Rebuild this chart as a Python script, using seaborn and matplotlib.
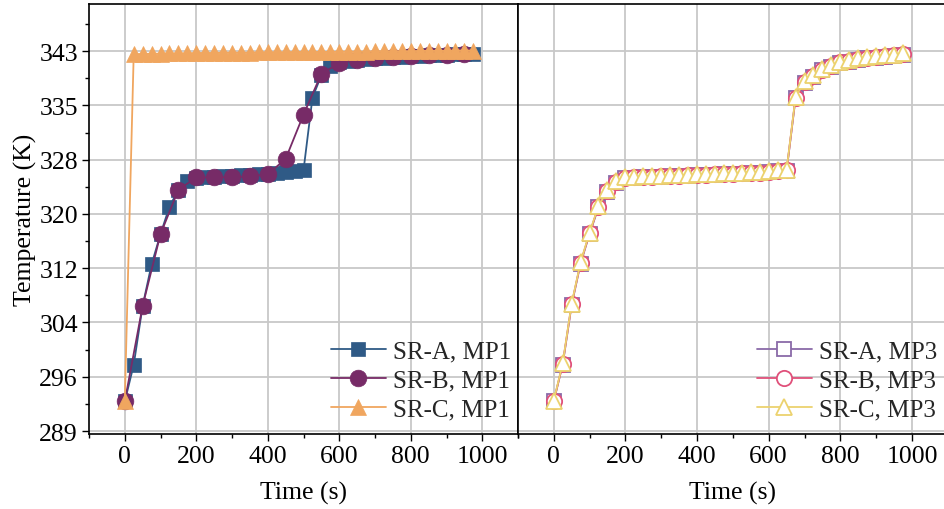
import numpy as np
import pandas as pd
import matplotlib
matplotlib.use("Agg")
import matplotlib.pyplot as plt
import seaborn as sns
from matplotlib.ticker import MultipleLocator, FixedLocator

# ---------------- data ----------------
time_25 = list(range(0, 1000, 25))   # 0 .. 975 s
time_50 = list(range(0, 1000, 50))   # 0 .. 950 s

sra_mp1 = [293.2, 298.4, 306.8, 312.7, 317.0, 320.9, 323.3, 324.6,
           325.0, 325.1, 325.15, 325.2, 325.3, 325.35, 325.4, 325.5, 325.6, 325.7, 325.8, 325.9, 326.1,
           336.4, 339.6, 340.9, 341.4, 341.6, 341.8, 341.9, 342.0, 342.1, 342.15, 342.2, 342.3, 342.35,
           342.4, 342.45, 342.5, 342.55, 342.6, 342.65]
srb_mp1 = [293.2, 306.8, 317.0, 323.3, 325.05, 325.05, 325.1, 325.2, 325.5, 327.7,
           334.0, 339.8, 341.3, 341.8, 342.0, 342.2, 342.3, 342.4, 342.5, 342.6]
src_mp1 = [293.2, 342.6, 342.6, 342.65, 342.65, 342.7, 342.7, 342.7, 342.75, 342.75,
           342.75, 342.8, 342.8, 342.8, 342.8, 342.85, 342.85, 342.85, 342.85, 342.9,
           342.9, 342.9, 342.9, 342.9, 342.95, 342.95, 342.95, 342.95, 343.0, 343.0,
           343.0, 343.0, 343.0, 343.05, 343.05, 343.05, 343.05, 343.1, 343.1, 343.1]

sra_mp3 = [293.2, 298.4, 306.9, 312.8, 317.0, 320.8, 323.0, 324.3, 324.95,
           325.0, 325.05, 325.1, 325.15, 325.2, 325.25, 325.3, 325.35, 325.4, 325.45, 325.5,
           325.55, 325.6, 325.65, 325.7, 325.8, 325.9, 326.0,
           336.3, 338.5, 339.4, 340.3, 340.8, 341.3, 341.5, 341.8, 342.0, 342.1, 342.2, 342.3, 342.5]
srb_mp3 = [293.2, 298.5, 307.0, 312.9, 317.1, 320.9, 323.1, 324.4, 325.0,
           325.05, 325.1, 325.15, 325.2, 325.25, 325.3, 325.35, 325.4, 325.45, 325.5, 325.55,
           325.6, 325.65, 325.7, 325.75, 325.85, 325.95, 326.05,
           336.4, 338.6, 339.5, 340.4, 340.9, 341.4, 341.6, 341.9, 342.1, 342.2, 342.3, 342.4, 342.6]
src_mp3 = [293.3, 298.6, 307.1, 313.0, 317.2, 321.0, 323.2, 324.5, 325.1,
           325.15, 325.2, 325.25, 325.3, 325.35, 325.4, 325.45, 325.5, 325.55, 325.6, 325.65,
           325.7, 325.75, 325.8, 325.85, 325.95, 326.05, 326.15,
           336.5, 338.7, 339.6, 340.5, 341.0, 341.5, 341.7, 342.0, 342.2, 342.3, 342.4, 342.5, 342.7]

ytick_labels = ["289", "296", "304", "312", "320", "328", "335", "343"]
xticks = [0, 200, 400, 600, 800, 1000]

left_series = [
    ("SR-A, MP1", time_25, sra_mp1, "#2f5a86", "s", 10.5),
    ("SR-B, MP1", time_50, srb_mp1, "#772b67", "o", 12),
    ("SR-C, MP1", time_25, src_mp1, "#f0a65f", "^", 12),
]
right_series = [
    ("SR-A, MP3", time_25, sra_mp3, "#8a6aa8", "s", 10.5),
    ("SR-B, MP3", time_25, srb_mp3, "#e0507a", "o", 11),
    ("SR-C, MP3", time_25, src_mp3, "#ecd26e", "^", 12),
]

# ---------------- style ----------------
sns.set_theme(style="whitegrid")
plt.rcParams['font.family'] = ['Liberation Serif', 'DejaVu Serif']

fig = plt.figure(figsize=(9.45, 5.1), dpi=100)
ax1 = fig.add_axes([0.0942, 0.147, 0.454, 0.843])
ax2 = fig.add_axes([0.548, 0.147, 0.455, 0.843])

for name, t, v, c, m, ms in left_series:
    sns.lineplot(x=t, y=v, ax=ax1, color=c, marker=m, markersize=ms,
                 markeredgecolor=c, markeredgewidth=0.5, linewidth=1.3,
                 label=name, errorbar=None, sort=False)

for name, t, v, c, m, ms in right_series:
    sns.lineplot(x=t, y=v, ax=ax2, color=c, marker=m, markersize=ms,
                 markerfacecolor="white", markeredgecolor=c, markeredgewidth=1.3,
                 linewidth=1.3, label=name, errorbar=None, sort=False)

ypos = np.linspace(289, 343, len(ytick_labels))
ystep = ypos[1] - ypos[0]
yminor = list(ypos[:-1] + ystep / 2) + [ypos[-1] + ystep / 2]

for ax in (ax1, ax2):
    ax.set_xlim(-100, 1100)
    ax.set_ylim(288.57, 349.7)
    ax.set_xticks(xticks)
    ax.xaxis.set_minor_locator(MultipleLocator(100))
    ax.set_yticks(ypos)
    ax.yaxis.set_minor_locator(FixedLocator(yminor))
    ax.grid(True, which='major', color='#c8c8c8', linewidth=1.3)
    ax.grid(False, which='minor')
    for s in ax.spines.values():
        s.set_color('black')
        s.set_linewidth(1.2)
    ax.tick_params(axis='both', which='major', direction='out', length=5, width=1,
                   color='black', labelsize=18.5, labelcolor='black', pad=3,
                   bottom=True, left=True)
    ax.tick_params(axis='both', which='minor', direction='out', length=3, width=1,
                   color='black', bottom=True, left=True)
    ax.set_xlabel("Time (s)", fontsize=18.5, color='black', labelpad=10)
    ax.set_facecolor('white')

ax1.set_yticklabels(ytick_labels)
ax1.set_ylabel("Temperature (K)", fontsize=18.5, color='black', labelpad=2)
ax2.tick_params(axis='y', which='both', left=False, labelleft=False)
ax2.set_ylabel("")

ax1.legend(loc='lower right', bbox_to_anchor=(1.017, 0.0), frameon=False, fontsize=18,
           handlelength=2.2, handletextpad=0.3, labelspacing=0.25,
           borderaxespad=0.35, borderpad=0.2)
ax2.legend(loc='lower right', bbox_to_anchor=(1.008, 0.0), frameon=False, fontsize=18,
           handlelength=2.2, handletextpad=0.3, labelspacing=0.25,
           borderaxespad=0.35, borderpad=0.2)

fig.savefig("out.png", dpi=100)
